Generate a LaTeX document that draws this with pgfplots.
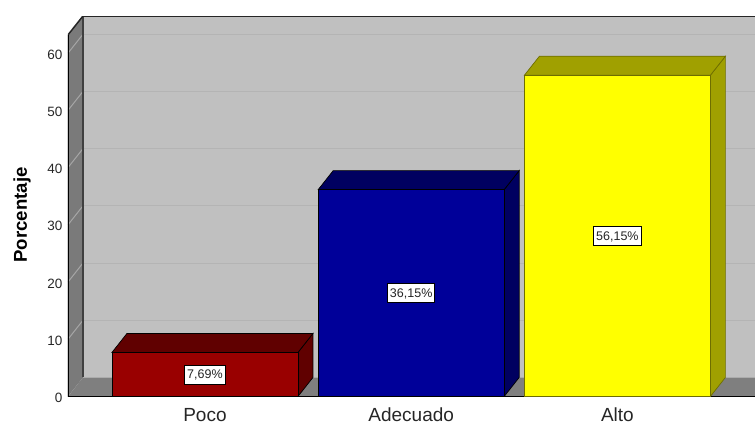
\documentclass[border=0pt]{standalone}
\usepackage{pgfplots}
\pgfplotsset{compat=1.18}
\usepackage{fontspec}
\setmainfont{Liberation Sans}
\definecolor{wallside}{HTML}{7A7A7A}
\definecolor{wallback}{HTML}{C0C0C0}
\definecolor{floorc}{HTML}{7F7F7F}
\definecolor{gridback}{HTML}{B4B4B4}
\definecolor{gridside}{HTML}{A6A6A6}
\definecolor{txt}{HTML}{262626}
\definecolor{pureyellow}{RGB}{255,255,0}
\begin{document}
\begin{tikzpicture}
\begin{axis}[
  scale only axis, width=687pt, height=380.5pt,
  xmin=-0.6642, xmax=2.6667, ymin=0, ymax=66.5,
  axis line style={draw=none},
  major tick length=0pt,
  /pgf/number format/assume math mode=true,
  xtick={0,1,2}, xticklabels={Poco,Adecuado,Alto},
  ytick={0,10,20,30,40,50,60},
  tick label style={text=txt},
  x tick label style={font=\fontsize{19}{20}\selectfont, text height=14pt, text depth=0pt, yshift=-8pt},
  y tick label style={font=\fontsize{13.5}{15}\selectfont, xshift=-2pt, yshift=-1.5pt},
  ylabel={Porcentaje},
  every axis y label/.style={at={(axis description cs:-0.0670,0.477)},rotate=90,anchor=center,font=\fontsize{18.6}{20}\selectfont\bfseries,text=black},
]
% back wall
\addplot[fill=wallback,draw=none] coordinates {(-0.5915,3.32)(2.6667,3.32)(2.6667,66.5)(-0.5915,66.5)} --cycle;
% left wall
\addplot[fill=wallside,draw=none] coordinates {(-0.6642,0)(-0.6642,63.2)(-0.5915,66.5)(-0.5915,3.32)} --cycle;
% floor
\addplot[fill=floorc,draw=none] coordinates {(-0.6642,0)(-0.5915,3.32)(2.6667,3.32)(2.6667,0)} --cycle;
% gridlines, back wall
\addplot[gridback,line width=1pt] coordinates {(-0.5915,13.32)(2.6667,13.32)};
\addplot[gridback,line width=1pt] coordinates {(-0.5915,23.32)(2.6667,23.32)};
\addplot[gridback,line width=1pt] coordinates {(-0.5915,33.32)(2.6667,33.32)};
\addplot[gridback,line width=1pt] coordinates {(-0.5915,43.32)(2.6667,43.32)};
\addplot[gridback,line width=1pt] coordinates {(-0.5915,53.32)(2.6667,53.32)};
\addplot[gridback,line width=1pt] coordinates {(-0.5915,63.32)(2.6667,63.32)};
% gridlines, left wall
\addplot[gridside,line width=1pt] coordinates {(-0.6642,10)(-0.5915,13.32)};
\addplot[gridside,line width=1pt] coordinates {(-0.6642,20)(-0.5915,23.32)};
\addplot[gridside,line width=1pt] coordinates {(-0.6642,30)(-0.5915,33.32)};
\addplot[gridside,line width=1pt] coordinates {(-0.6642,40)(-0.5915,43.32)};
\addplot[gridside,line width=1pt] coordinates {(-0.6642,50)(-0.5915,53.32)};
\addplot[gridside,line width=1pt] coordinates {(-0.6642,60)(-0.5915,63.32)};
% frame lines
\addplot[black!75,line width=1.2pt] coordinates {(-0.5915,3.32)(-0.5915,66.5)};
\addplot[black!85,line width=1.5pt] coordinates {(-0.6642,63.2)(-0.5915,66.5)(2.6667,66.5)};
\addplot[black,line width=1.8pt] coordinates {(-0.6642,63.2)(-0.6642,0)(2.6667,0)};
% Poco
\addplot[draw=black,line width=0.7pt,fill={rgb,255:red,96;green,0;blue,0}] coordinates {(0.4509,0)(0.4509,7.69)(0.5236,11.01)(0.5236,3.32)} --cycle;
\addplot[draw=black,line width=0.7pt,fill={rgb,255:red,96;green,0;blue,0}] coordinates {(-0.4509,7.69)(-0.3782,11.01)(0.5236,11.01)(0.4509,7.69)} --cycle;
\addplot[ybar,bar width=186pt,draw=black,line width=0.7pt,fill={rgb,255:red,153;green,0;blue,0}] coordinates {(0,7.69)};
% Adecuado
\addplot[draw=black,line width=0.7pt,fill={rgb,255:red,0;green,0;blue,96}] coordinates {(1.4509,0)(1.4509,36.15)(1.5236,39.47)(1.5236,3.32)} --cycle;
\addplot[draw=black,line width=0.7pt,fill={rgb,255:red,0;green,0;blue,96}] coordinates {(0.5491,36.15)(0.6218,39.47)(1.5236,39.47)(1.4509,36.15)} --cycle;
\addplot[ybar,bar width=186pt,draw=black,line width=0.7pt,fill={rgb,255:red,0;green,0;blue,153}] coordinates {(1,36.15)};
% Alto
\addplot[draw={rgb,255:red,110;green,110;blue,0},line width=0.7pt,fill={rgb,255:red,160;green,160;blue,0}] coordinates {(2.4509,0)(2.4509,56.15)(2.5236,59.47)(2.5236,3.32)} --cycle;
\addplot[draw={rgb,255:red,110;green,110;blue,0},line width=0.7pt,fill={rgb,255:red,160;green,160;blue,0}] coordinates {(1.5491,56.15)(1.6218,59.47)(2.5236,59.47)(2.4509,56.15)} --cycle;
\addplot[ybar,bar width=186pt,draw={rgb,255:red,110;green,110;blue,0},line width=0.7pt,fill=pureyellow] coordinates {(2,56.15)};
% value labels
\node[fill=white,draw=black,line width=0.8pt,inner xsep=2.5pt,inner ysep=5pt,text height=9pt,text depth=0pt,text=txt,font=\fontsize{12.5}{14}\selectfont] at (axis cs:0,3.845) {7,69\%};
\node[fill=white,draw=black,line width=0.8pt,inner xsep=2.5pt,inner ysep=5pt,text height=9pt,text depth=0pt,text=txt,font=\fontsize{12.5}{14}\selectfont] at (axis cs:1,18.07) {36,15\%};
\node[fill=white,draw=black,line width=0.8pt,inner xsep=2.5pt,inner ysep=5pt,text height=9pt,text depth=0pt,text=txt,font=\fontsize{12.5}{14}\selectfont] at (axis cs:2,28.07) {56,15\%};
\end{axis}
\path[use as bounding box] (-68pt,-26.5pt) rectangle (687pt,396.5pt);
\end{tikzpicture}
\end{document}
